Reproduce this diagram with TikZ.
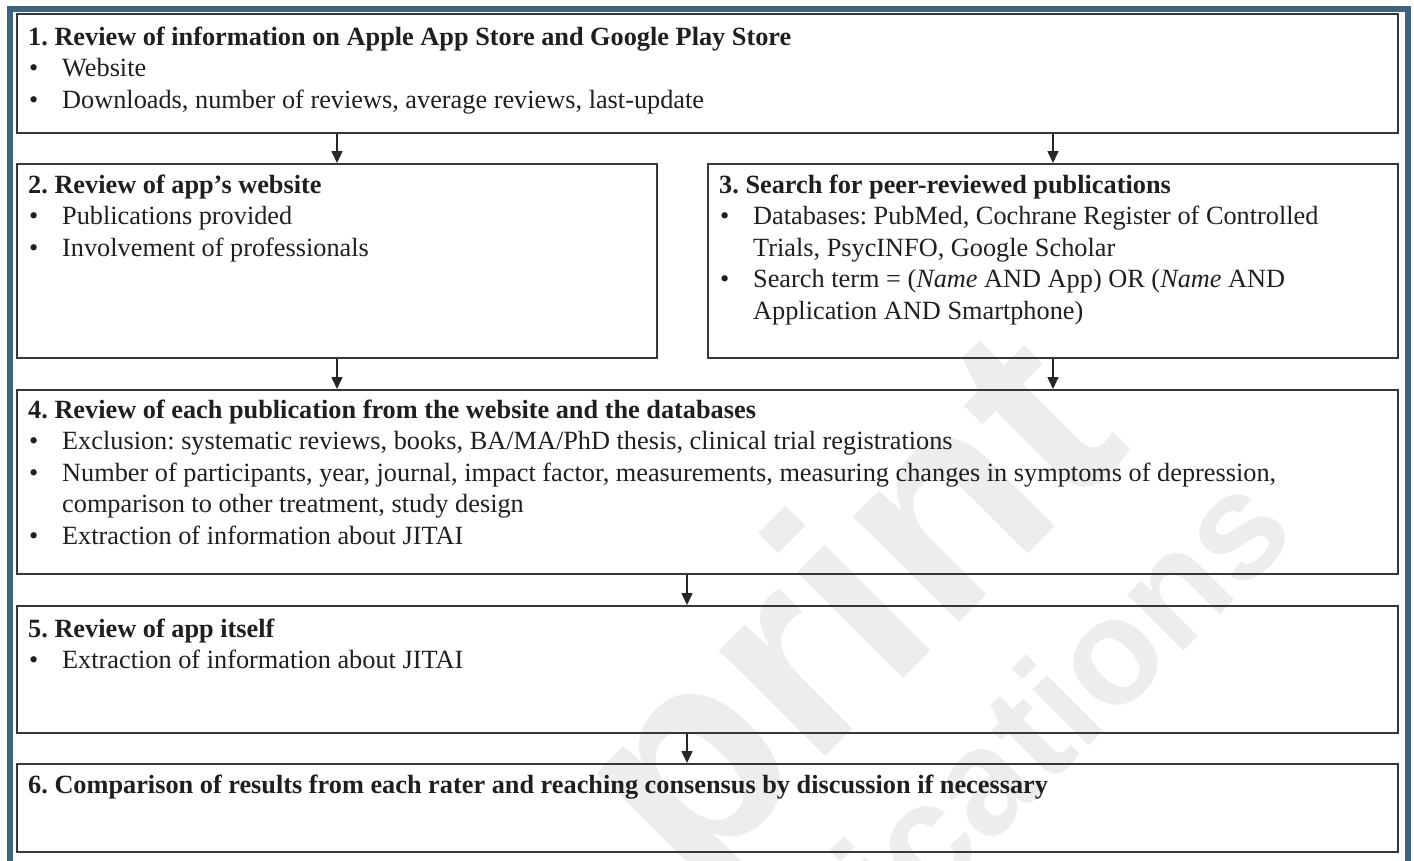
\documentclass[tikz,border=0pt]{standalone}
\usepackage{fontspec}
\setmainfont{Liberation Serif}
\newfontfamily\wmfont{Liberation Sans}
\usetikzlibrary{arrows.meta}

\definecolor{framecol}{RGB}{62,99,122}
\definecolor{boxline}{RGB}{55,55,55}
\definecolor{wmgray}{RGB}{237,237,237}

\newcommand{\bodyfont}{\fontsize{26.3pt}{31.5pt}\selectfont\frenchspacing}
\newcommand{\bitem}{\par\noindent\hangindent=34pt\hangafter=1\makebox[34pt][l]{\hspace*{1pt}\textbullet}}

\tikzset{
  box/.style={draw=boxline, line width=2pt, rectangle, inner sep=0pt, anchor=north west},
  txt/.style={anchor=base west, inner sep=0pt, text=black!88},
  arr/.style={draw=black!85, line width=1.6pt, -{Triangle[width=11pt,length=12pt]}},
  wm/.style={text=wmgray, inner sep=0pt, rotate=45, anchor=base east},
}

\begin{document}
\begin{tikzpicture}[x=1pt,y=1pt]
\useasboundingbox (0,0) rectangle (1414,-860);

% watermark behind everything
\begin{scope}
  \clip (0,0) rectangle (1414,-860);
  \node[wm, font=\wmfont\bfseries\fontsize{283pt}{283pt}\selectfont] (wm1) at (1134,-448) {print};
  \node[wm, font=\wmfont\bfseries\fontsize{150pt}{150pt}\selectfont] (wm2) at (1300,-535) {Publications};
\end{scope}

% outer frame
\draw[framecol, line width=6pt] (9.5,-870) -- (9.5,-8.5) -- (1407.5,-8.5) -- (1407.5,-870);

% boxes
\node[box, minimum width=1381pt, minimum height=118.5pt] (b1) at (16,-13) {};
\node[box, minimum width=640pt,  minimum height=194pt]   (b2) at (16,-163) {};
\node[box, minimum width=690pt,  minimum height=194pt]   (b3) at (707,-163) {};
\node[box, minimum width=1381pt, minimum height=184pt]   (b4) at (16,-389) {};
\node[box, minimum width=1381pt, minimum height=126.5pt] (b5) at (16,-605) {};
\node[box, minimum width=1381pt, minimum height=88pt]    (b6) at (16,-763) {};

% box texts
\node[txt] (t1) at (28,-45) {\begin{minipage}[t]{1360pt}\bodyfont\raggedright
\noindent\textbf{1. Review of information on Apple App Store and Google Play Store}
\bitem Website
\bitem Downloads, number of reviews, average reviews, last-update
\end{minipage}};

\node[txt] (t2) at (28,-193) {\begin{minipage}[t]{620pt}\bodyfont\raggedright
\noindent\textbf{2. Review of app’s website}
\bitem Publications provided
\bitem Involvement of professionals
\end{minipage}};

\node[txt] (t3) at (719,-193) {\begin{minipage}[t]{670pt}\bodyfont\raggedright
\noindent\textbf{3. Search for peer-reviewed publications}
\bitem Databases: PubMed, Cochrane Register of Controlled\newline Trials, PsycINFO, Google Scholar
\bitem Search term = (\textit{Name} AND App) OR (\textit{Name} AND\newline Application AND Smartphone)
\end{minipage}};

\node[txt] (t4) at (28,-418) {\begin{minipage}[t]{1360pt}\bodyfont\raggedright
\noindent\textbf{4. Review of each publication from the website and the databases}
\bitem Exclusion: systematic reviews, books, BA/MA/PhD thesis, clinical trial registrations
\bitem Number of participants, year, journal, impact factor, measurements, measuring changes in symptoms of depression,\newline comparison to other treatment, study design
\bitem Extraction of information about JITAI
\end{minipage}};

\node[txt] (t5) at (28,-637) {\begin{minipage}[t]{1360pt}\bodyfont\raggedright
\noindent\textbf{5. Review of app itself}
\bitem Extraction of information about JITAI
\end{minipage}};

\node[txt] (t6) at (28,-793) {\begin{minipage}[t]{1360pt}\bodyfont\raggedright
\noindent\textbf{6. Comparison of results from each rater and reaching consensus by discussion if necessary}
\end{minipage}};

% connectors
\coordinate (c45) at (687,0);
\draw[arr] (b1.south -| b2.north) -- (b2.north);
\draw[arr] (b1.south -| b3.north) -- (b3.north);
\draw[arr] (b2.south) -- (b4.north -| b2.south);
\draw[arr] (b3.south) -- (b4.north -| b3.south);
\draw[arr] (b4.south -| c45) -- (b5.north -| c45);
\draw[arr] (b5.south -| c45) -- (b6.north -| c45);
\end{tikzpicture}
\end{document}
